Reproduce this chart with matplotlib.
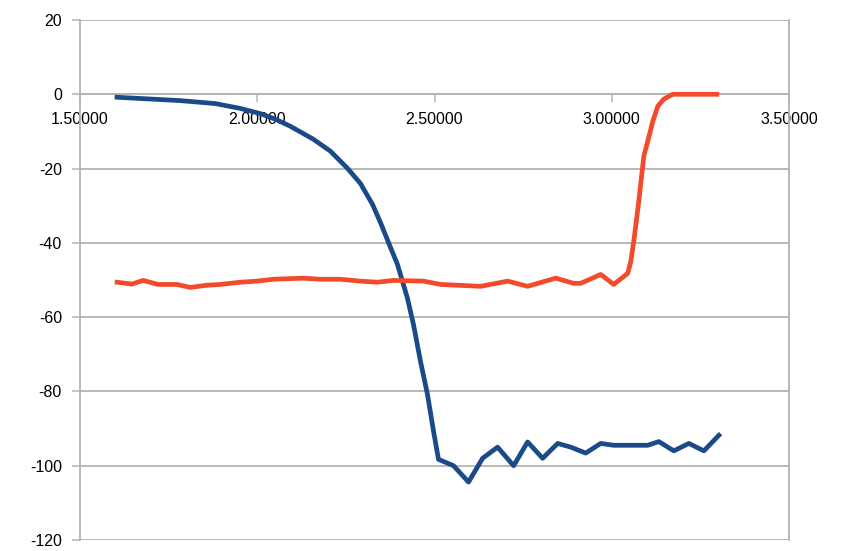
import matplotlib.pyplot as plt
from matplotlib.ticker import FormatStrFormatter

# blue series
blue_x = [1.6045, 1.6836, 1.7825, 1.8814, 1.9520, 2.0085, 2.0508, 2.0932, 2.1582,
          2.2062, 2.2542, 2.2910, 2.3249, 2.3475, 2.3757, 2.3955, 2.4237,
          2.4407, 2.4605, 2.4802, 2.4972, 2.5113, 2.5537, 2.5960, 2.6356, 2.6780,
          2.7232, 2.7627, 2.8051, 2.8475, 2.8842, 2.9266, 2.9689, 3.0056, 3.1017,
          3.1328, 3.1751, 3.2175, 3.2599, 3.3023]
blue_y = [-0.8, -1.2, -1.7, -2.5, -3.8, -5.2, -6.7, -8.6, -12.1,
          -15.3, -19.9, -24.0, -29.6, -34.5, -41.2, -45.8, -54.9,
          -62.0, -71.9, -80.8, -90.7, -98.3, -100.0, -104.4, -98.0, -95.0,
          -100.0, -93.6, -98.0, -94.0, -95.0, -96.6, -94.0, -94.5, -94.5,
          -93.5, -96.0, -94.0, -96.0, -91.8]

# red series
red_x = [1.6045, 1.6469, 1.6780, 1.7203, 1.7740, 1.8107, 1.8588, 1.8955, 1.9520,
         2.0000, 2.0452, 2.1299, 2.1780, 2.2345, 2.2910, 2.3390, 2.3842, 2.4689,
         2.5169, 2.6299, 2.7062, 2.7627, 2.8418, 2.8927, 2.9124, 2.9689, 3.0056,
         3.0452, 3.0537, 3.0621, 3.0763, 3.0904, 3.1017, 3.1158, 3.1299, 3.1469,
         3.1723, 3.2966]
red_y = [-50.6, -51.1, -50.1, -51.2, -51.2, -52.0, -51.4, -51.2, -50.6,
         -50.3, -49.8, -49.5, -49.8, -49.8, -50.3, -50.6, -50.1, -50.3,
         -51.2, -51.7, -50.3, -51.7, -49.5, -50.9, -50.9, -48.5, -51.2,
         -48.2, -45.0, -39.6, -28.8, -16.7, -12.6, -7.3, -3.2, -1.3,
         0.0, 0.0]

x_ticks = [1.5, 2.0, 2.5, 3.0, 3.5]
y_ticks = [-120, -100, -80, -60, -40, -20, 0, 20]

plt.rcParams['font.family'] = ['Liberation Sans', 'DejaVu Sans']
plt.rcParams['axes.unicode_minus'] = False

fig = plt.figure(figsize=(8.48, 5.51), dpi=100)
ax = fig.add_axes([80 / 848, 1 - 540 / 551, 709 / 848, 520 / 551])

grid_color = '#b3b3b3'
# lines above the spines (spines default to zorder 2.5)
ax.plot(blue_x, blue_y, color='#1a4a87', linewidth=3.4, zorder=3)
ax.plot(red_x, red_y, color='#f24a2b', linewidth=3.4, zorder=3)

ax.set_xlim(1.5, 3.5)
ax.set_ylim(-120, 20)
ax.set_xticks(x_ticks)
ax.set_yticks(y_ticks)
ax.xaxis.set_major_formatter(FormatStrFormatter('%.5f'))

ax.yaxis.grid(True, color=grid_color, linewidth=1.3)
ax.set_axisbelow(True)

# x axis crosses at y = 0
ax.spines['bottom'].set_position(('data', 0))
for s in ['left', 'right', 'bottom']:
    ax.spines[s].set_color(grid_color)
    ax.spines[s].set_linewidth(1.3)
ax.spines['top'].set_visible(False)

ax.tick_params(axis='x', colors=grid_color, labelcolor='black', length=6,
               width=1.1, pad=7, labelsize=11.5)
ax.tick_params(axis='y', colors=grid_color, labelcolor='black', length=6,
               width=1.1, pad=7, labelsize=11.5)

fig.savefig('out.png', dpi=100)
